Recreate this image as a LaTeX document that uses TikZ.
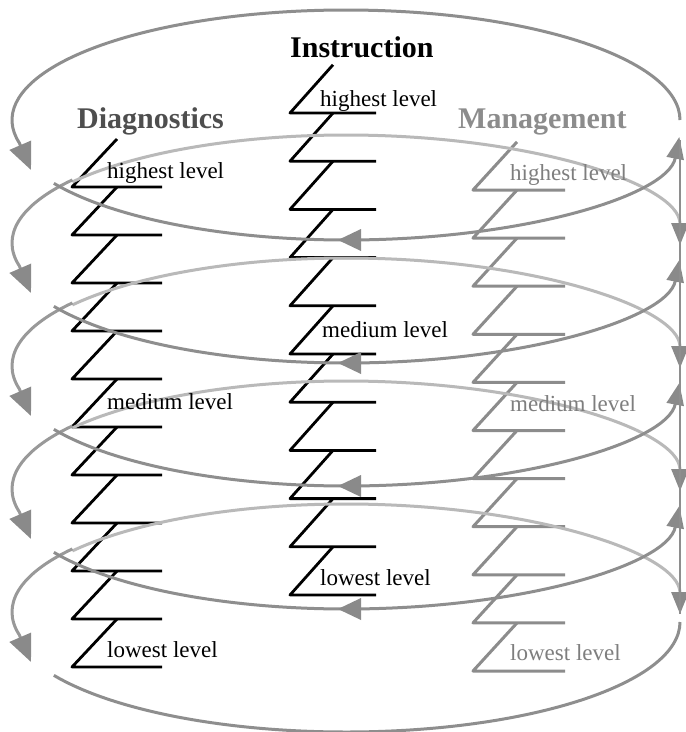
\documentclass[tikz,border=0pt]{standalone}
\usepackage{fontspec}
\setmainfont{Liberation Serif}
\usetikzlibrary{arrows.meta}
\definecolor{arcback}{HTML}{B9B9B9}
\definecolor{arcfront}{HTML}{8E8E8E}
\definecolor{arcside}{HTML}{999999}
\definecolor{tipcol}{HTML}{8A8A8A}
\definecolor{mgmt}{HTML}{8C8C8C}
\definecolor{diaghead}{HTML}{4E4E4E}
\tikzset{
  backarc/.style={draw=arcback, line width=3pt},
  sidearc/.style={draw=arcside, line width=3pt},
  frontarc/.style={draw=arcfront, line width=3pt},
  vline/.style={draw=arcfront, line width=2.5pt},
  zigD/.style={draw=black, line width=2.8pt},
  zigI/.style={draw=black, line width=2.8pt},
  zigM/.style={draw=mgmt, line width=3pt},
  head/.style={font=\fontsize{30}{36}\selectfont\bfseries, inner sep=0pt, anchor=base west},
  lvl/.style={font=\fontsize{23}{28}\selectfont, inner sep=0pt, anchor=base west},
  sidetip/.tip={Triangle[length=27pt 0 0,width=23pt 0 0,color=tipcol]},
  edgetip/.tip={Triangle[length=22pt 0 0,width=17pt 0 0,color=tipcol]},
}
\begin{document}
\begin{tikzpicture}[x=1pt,y=-1pt,line join=round]
\useasboundingbox (0,0) rectangle (686,732);
\fill[white] (0,0) rectangle (686,732);

% zigzags
\foreach \i in {0,...,10}{
  \pgfmathsetmacro\yd{187+48*\i}
  \pgfmathsetmacro\yi{113+48.2*\i}
  \pgfmathsetmacro\ym{190+48.1*\i}
  \draw[zigD] (117,\yd-48) -- (72,\yd) -- (162,\yd);
  \draw[zigI] (333,\yi-48.2) -- (290,\yi) -- (376,\yi);
  \draw[zigM] (517,\ym-48.1) -- (473,\ym) -- (565,\ym);
}

% top arc
\draw[frontarc, -sidetip] (680,120) arc[start angle=0, end angle=-192, x radius=334, y radius=110] -- (31,170);

% back arcs
\foreach \k in {1,...,4}{
  \pgfmathsetmacro\C{120+123*\k}
  \draw[backarc, edgetip-] (680,\C+2) arc[start angle=0, end angle=-145, x radius=334, y radius=110];
  \draw[sidearc, -sidetip] ({346+334*cos(-145)},{\C+110*sin(-145)}) arc[start angle=-145, end angle=-192, x radius=334, y radius=110] -- (31,\C+50);
}

% front arcs
\foreach \k in {0,...,3}{
  \pgfmathsetmacro\C{120+123*\k}
  \draw[frontarc, edgetip-] ({346+334*cos(3.6)},{\C+10+110*sin(3.6)}) arc[start angle=3.6, end angle=151, x radius=334, y radius=110];
  \fill[tipcol] (338,\C+120) -- (361,\C+109) -- (361,\C+131) -- cycle;
}
\draw[frontarc] (680,622) arc[start angle=0, end angle=151, x radius=334, y radius=110];

% right vertical line
\draw[vline] (680,140) -- (680,614);

% headers
\node[head, text=black] (instr) at (290,57) {Instruction};
\node[head, text=diaghead] (diag) at (77,128) {Diagnostics};
\node[head, text=mgmt] (mgmt) at (458,128) {Management};

% level labels
\node[lvl] (dh) at (107,178) {highest level};
\node[lvl] (dm) at (107,409) {medium level};
\node[lvl] (dl) at (107,657) {lowest level};
\node[lvl] (ih) at (320,106) {highest level};
\node[lvl] (im) at (322,337) {medium level};
\node[lvl] (il) at (320,585) {lowest level};
\node[lvl, text=mgmt!90!black] (mh) at (510,180) {highest level};
\node[lvl, text=mgmt!90!black] (mm) at (510,411) {medium level};
\node[lvl, text=mgmt!90!black] (ml) at (510,660) {lowest level};
\end{tikzpicture}
\end{document}
